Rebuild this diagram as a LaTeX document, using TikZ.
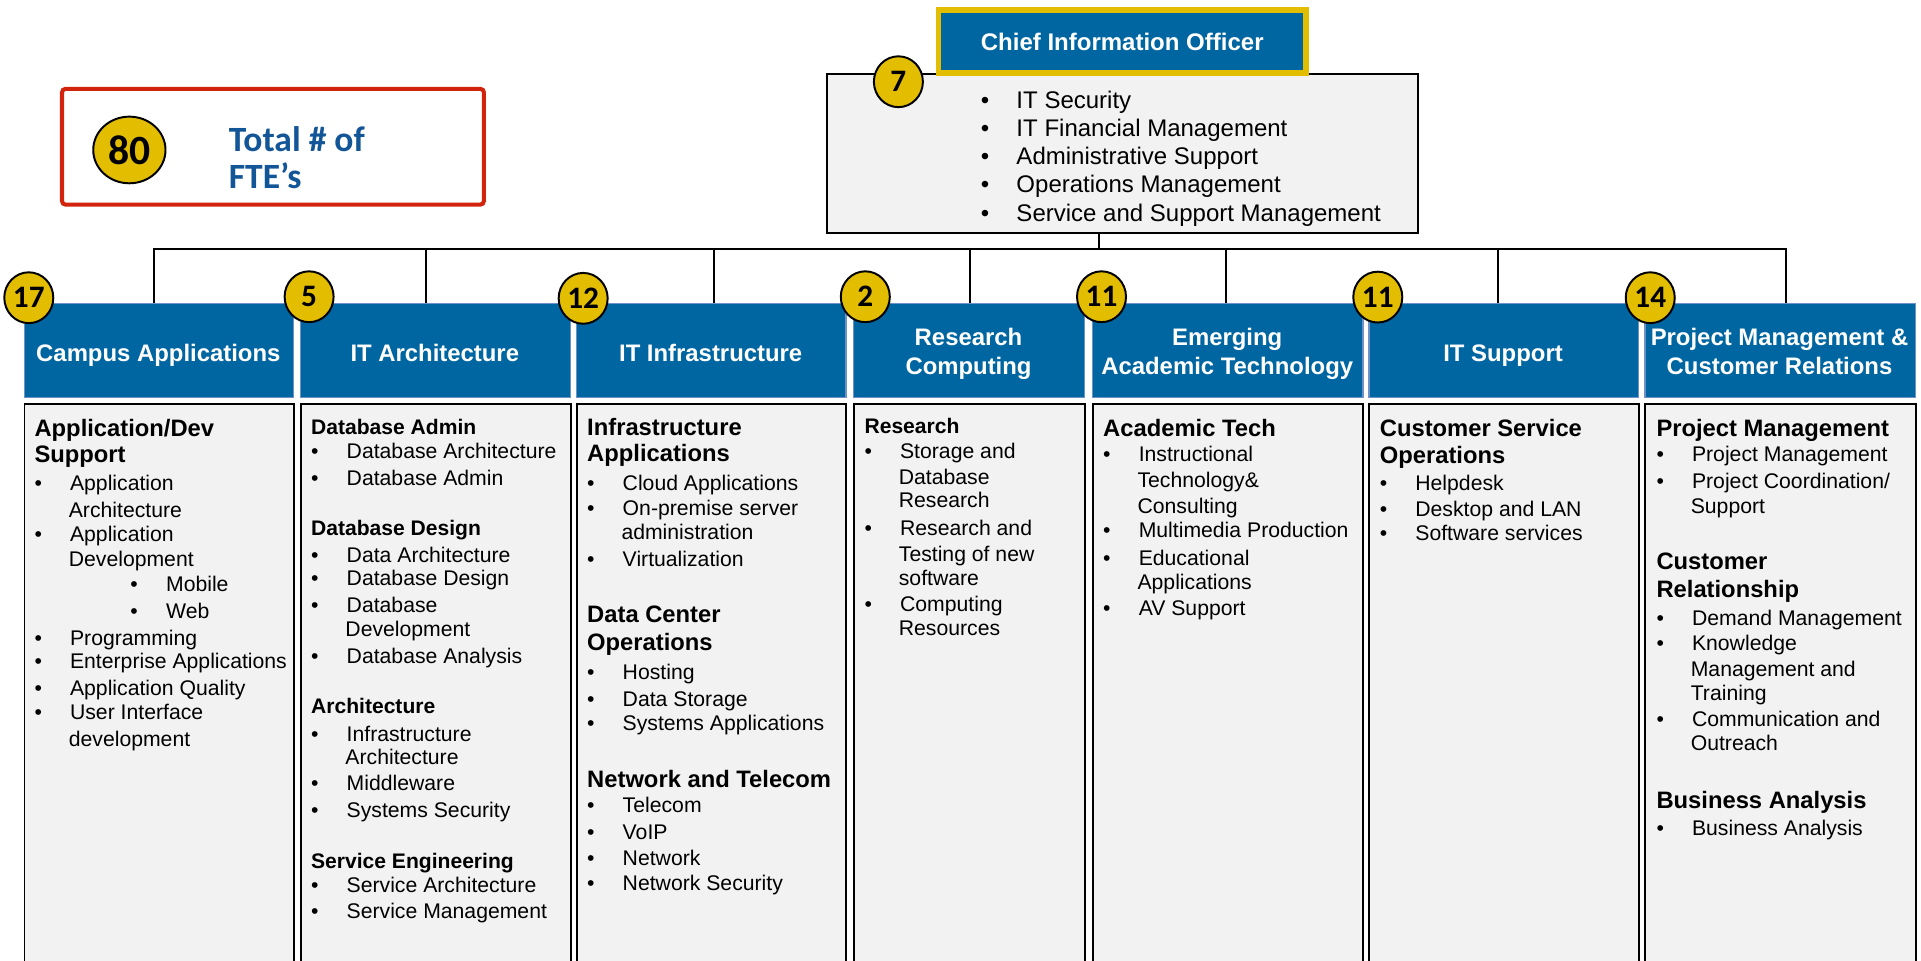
\documentclass[tikz,border=0pt]{standalone}
\usepackage{fontspec}
\setmainfont{Liberation Sans}
\newfontfamily\calib{Carlito}
\usetikzlibrary{shapes.geometric}

\definecolor{hdblue}{RGB}{0,102,161}
\definecolor{hdedge}{RGB}{110,145,200}
\definecolor{gold}{RGB}{227,190,0}
\definecolor{boxred}{RGB}{210,36,12}
\definecolor{fteblue}{RGB}{18,86,152}
\definecolor{panel}{RGB}{242,242,242}

% list helpers for the unit panels
\newcommand{\secbig}{\fontsize{9.7pt}{11pt}\selectfont\bfseries}
\newcommand{\secsmall}{\fontsize{8.6pt}{10pt}\selectfont\bfseries}
\newcommand{\itm}{\makebox[14.5pt][l]{\textbullet}}
\newcommand{\cont}{\hspace*{14pt}}
\newcommand{\subitm}{\hspace*{39.15pt}\makebox[14.55pt][l]{\textbullet}}

\begin{document}
\begin{tikzpicture}[x=0.5pt,y=-0.5pt,
  conn/.style={draw=black,line width=0.8pt},
  bluebox/.style={rectangle,fill=hdblue,draw=hdedge,line width=0.5pt,anchor=north west,
    minimum height=38.35pt,inner sep=0pt},
  panelbox/.style={rectangle,fill=panel,draw=black,line width=0.8pt,anchor=north west,
    minimum height=300pt,inner sep=0pt},
  bluelabel/.style={anchor=base,inner sep=0pt,text=white,
    font=\fontsize{9.75pt}{11.85pt}\selectfont\bfseries},
  badge/.style={ellipse,fill=gold,draw=black,line width=0.8pt,minimum width=20pt,
    minimum height=20.75pt,inner sep=0pt,font=\calib\bfseries\fontsize{12.75pt}{14pt}\selectfont},
  ln/.style={anchor=base west,inner sep=0pt,font=\fontsize{8.65pt}{10.4pt}\selectfont},
]
\useasboundingbox (0,0) rectangle (1568,784);
\clip (0,0) rectangle (1568,784);

% ---------- total head count ----------
\node[draw=boxred,line width=1.65pt,rounded corners=1.5pt,fill=white,
  minimum width=172.2pt,minimum height=47.3pt,inner sep=0pt] (ftebox) at (222.8,119.75) {};
\node[badge,minimum width=29.5pt,minimum height=27.2pt,
  font=\calib\bfseries\fontsize{17pt}{19pt}\selectfont] (n80) at (105.6,122.4) {80};
\node[anchor=base west,inner sep=0pt,text=fteblue,
  font=\calib\bfseries\fontsize{14.5pt}{15pt}\selectfont] (ftetext) at (186.4,123.8)
  {\begin{tabular}[t]{@{}l@{}}Total \# of\\FTE’s\end{tabular}};

% ---------- CIO and staff functions ----------
\node[panelbox,minimum width=241.5pt,minimum height=65.15pt] (staff) at (674,59.3) {};
\node[rectangle,fill=hdblue,draw=gold,line width=2.25pt,minimum width=150pt,
  minimum height=25.75pt,inner sep=0pt,text=white,
  font=\fontsize{9.8pt}{11pt}\selectfont\bfseries] (cio) at (916,34) {Chief Information Officer};
\node[badge] (n7) at (733.3,66.7) {7};
\node[anchor=base west,inner sep=0pt,font=\fontsize{9.8pt}{11.525pt}\selectfont] (stafflist)
  at (800.3,88.2) {\begin{tabular}[t]{@{}l@{}}
  \itm IT Security\\
  \itm IT Financial Management\\
  \itm Administrative Support\\
  \itm Operations Management\\
  \itm Service and Support Management
  \end{tabular}};

% ---------- unit headers ----------
\node[bluebox,minimum width=110.05pt] (b1) at (19.2,247.1) {};
\node[bluebox,minimum width=110.2pt]  (b2) at (244.7,247.1) {};
\node[bluebox,minimum width=109.9pt]  (b3) at (470.2,247.1) {};
\node[bluebox,minimum width=94.25pt]  (b4) at (696.3,247.1) {};
\node[bluebox,minimum width=110.3pt]  (b5) at (891.4,247.1) {};
\node[bluebox,minimum width=109.95pt] (b6) at (1116.9,247.1) {};
\node[bluebox,minimum width=110.3pt]  (b7) at (1342.2,247.1) {};

\node[bluelabel] (l1) at (129.25,295.2) {Campus Applications};
\node[bluelabel] (l2) at (354.9,295.2) {IT Architecture};
\node[bluelabel] (l3) at (580.1,295.2) {IT Infrastructure};
\node[bluelabel] (l4) at (790.55,282.3) {\begin{tabular}[t]{@{}c@{}}Research\\Computing\end{tabular}};
\node[bluelabel] (l5) at (1001.7,282.3) {\begin{tabular}[t]{@{}c@{}}Emerging\\Academic Technology\end{tabular}};
\node[bluelabel] (l6) at (1226.85,295.2) {IT Support};
\node[bluelabel] (l7) at (1452.5,282.3) {\begin{tabular}[t]{@{}c@{}}Project Management \&\\Customer Relations\end{tabular}};

% ---------- reporting lines ----------
\coordinate (t1) at (125.9,203);
\coordinate (t2) at (347.6,203);
\coordinate (t3) at (583.1,203);
\coordinate (t4) at (791.8,203);
\coordinate (t5) at (1000.6,203);
\coordinate (t6) at (1223.1,203);
\coordinate (t7) at (1457.8,203);
\coordinate (tc) at (896.7,203);
\draw[conn] (t1 |- b1.north) -- (t1) -- (t7) -- (t7 |- b7.north);
\foreach \k in {2,...,6} \draw[conn] (t\k) -- (t\k |- b\k.north);
\draw[conn] (tc |- staff.south) -- (tc);

% ---------- head-count badges ----------
\node[badge] (n17) at (23.5,243) {17};
\node[badge] (n5)  at (252.3,242.2) {5};
\node[badge] (n12) at (476,243.5) {12};
\node[badge] (n2)  at (706.3,242.2) {2};
\node[badge] (n11a) at (899.1,242.2) {11};
\node[badge] (n11b) at (1124.6,242.5) {11};
\node[badge] (n14) at (1347,243) {14};

% ---------- unit panels ----------
\node[panelbox,minimum width=110.05pt] (g1) at (19.2,328.7) {};
\node[panelbox,minimum width=110.2pt]  (g2) at (244.7,328.7) {};
\node[panelbox,minimum width=109.9pt]  (g3) at (470.2,328.7) {};
\node[panelbox,minimum width=94.25pt]  (g4) at (696.3,328.7) {};
\node[panelbox,minimum width=110.3pt]  (g5) at (891.4,328.7) {};
\node[panelbox,minimum width=109.95pt] (g6) at (1116.9,328.7) {};
\node[panelbox,minimum width=110.3pt]  (g7) at (1342.2,328.7) {};

% Campus Applications
\foreach \y/\t [count=\i] in {
 356.4/{\secbig Application/Dev},
 377.7/{\secbig Support},
 400.0/{\itm Application},
 422.3/{\cont Architecture},
 441.6/{\itm Application},
 462.5/{\cont Development},
 482.4/{\subitm Mobile},
 504.7/{\subitm Web},
 526.5/{\itm Programming},
 545.5/{\itm Enterprise Applications},
 567.3/{\itm Application Quality},
 587.2/{\itm User Interface},
 608.9/{\cont development}}
 \node[ln] (c1-\i) at (27.8,\y) {\t};

% IT Architecture
\foreach \y/\t [count=\i] in {
 354.3/{\secsmall Database Admin},
 374.1/{\itm Database Architecture},
 395.9/{\itm Database Admin},
 436.7/{\secsmall Database Design},
 459.0/{\itm Data Architecture},
 478.0/{\itm Database Design},
 499.8/{\itm Database},
 519.7/{\cont Development},
 541.4/{\itm Database Analysis},
 582.3/{\secsmall Architecture},
 605.4/{\itm Infrastructure},
 624.4/{\cont Architecture},
 645.4/{\itm Middleware},
 667.4/{\itm Systems Security},
 708.8/{\secsmall Service Engineering},
 728.6/{\itm Service Architecture},
 749.6/{\itm Service Management}}
 \node[ln] (c2-\i) at (253.6,\y) {\t};

% IT Infrastructure
\foreach \y/\t [count=\i] in {
 355.1/{\secbig Infrastructure},
 376.8/{\secbig Applications},
 400.0/{\itm Cloud Applications},
 420.9/{\itm On-premise server},
 440.2/{\cont administration},
 462.5/{\itm Virtualization},
 508.3/{\secbig Data Center},
 531.1/{\secbig Operations},
 554.5/{\itm Hosting},
 576.3/{\itm Data Storage},
 595.9/{\itm Systems Applications},
 642.9/{\secbig Network and Telecom},
 663.1/{\itm Telecom},
 685.1/{\itm VoIP},
 706.6/{\itm Network},
 726.5/{\itm Network Security}}
 \node[ln] (c3-\i) at (478.9,\y) {\t};

% Research Computing
\foreach \y/\t [count=\i] in {
 353.7/{\secsmall Research},
 374.1/{\itm Storage and},
 395.1/{\cont Database},
 414.1/{\cont Research},
 436.7/{\itm Research and},
 458.5/{\cont Testing of new},
 477.5/{\cont software},
 499.3/{\itm Computing},
 518.3/{\cont Resources}}
 \node[ln] (c4-\i) at (705.3,\y) {\t};

% Emerging Academic Technology
\foreach \y/\t [count=\i] in {
 356.4/{\secbig Academic Tech},
 376.3/{\itm Instructional},
 397.8/{\cont Technology\&},
 419.0/{\cont Consulting},
 438.9/{\itm Multimedia Production},
 461.2/{\itm Educational},
 480.8/{\cont Applications},
 502.0/{\itm AV Support}}
 \node[ln] (c5-\i) at (900.1,\y) {\t};

% IT Support
\foreach \y/\t [count=\i] in {
 356.4/{\secbig Customer Service},
 378.2/{\secbig Operations},
 400.0/{\itm Helpdesk},
 421.7/{\itm Desktop and LAN},
 441.3/{\itm Software services}}
 \node[ln] (c6-\i) at (1125.9,\y) {\t};

% Project Management & Customer Relations
\foreach \y/\t [count=\i] in {
 356.4/{\secbig Project Management},
 376.8/{\itm Project Management},
 398.6/{\itm Project Coordination/},
 419.0/{\cont Support},
 464.7/{\secbig Customer},
 487.6/{\secbig Relationship},
 510.7/{\itm Demand Management},
 530.6/{\itm Knowledge},
 552.3/{\cont Management and},
 571.4/{\cont Training},
 593.2/{\itm Communication and},
 612.7/{\cont Outreach},
 659.8/{\secbig Business Analysis},
 681.6/{\itm Business Analysis}}
 \node[ln] (c7-\i) at (1351.7,\y) {\t};

\end{tikzpicture}
\end{document}
